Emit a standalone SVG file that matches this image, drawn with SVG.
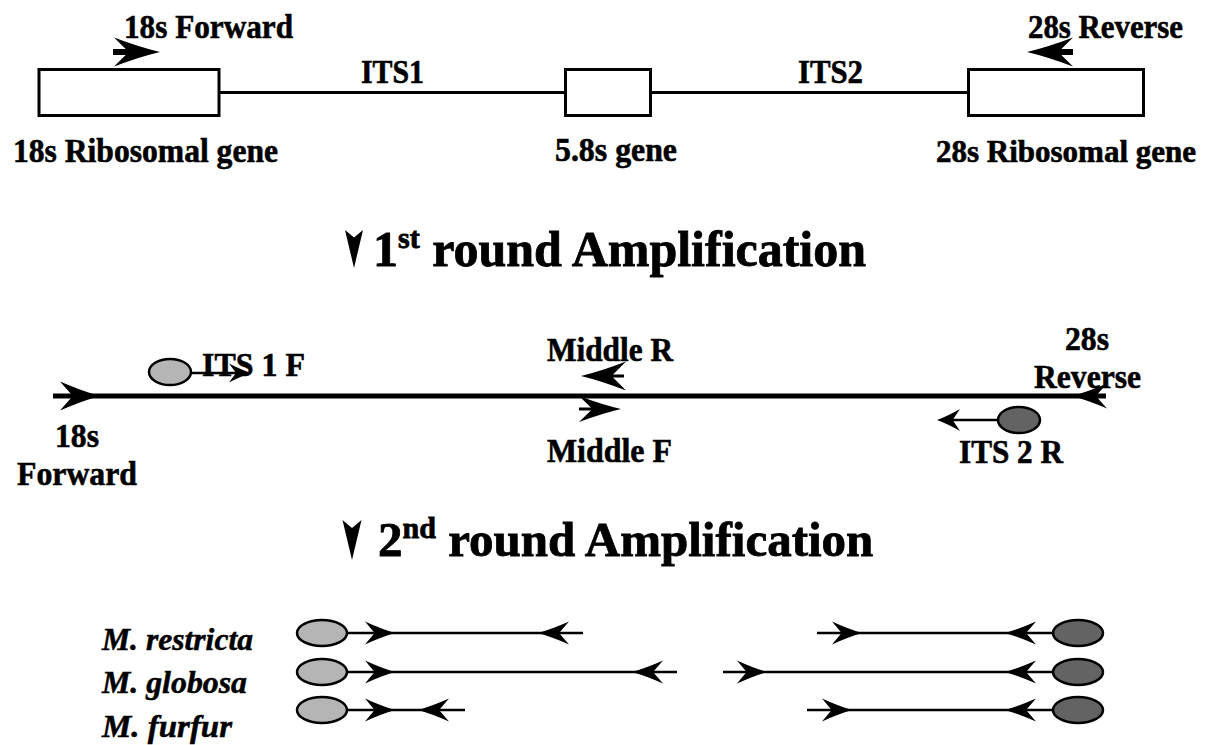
<svg xmlns="http://www.w3.org/2000/svg" xmlns:xlink="http://www.w3.org/1999/xlink" width="1209" height="745" viewBox="0 0 1209 745">
<style>
  .t { font-family: "Liberation Serif", "Times New Roman", serif; font-weight: bold; font-size: 34px; fill: #000; stroke: #000; stroke-width: 0.6; }
  .it { font-family: "Liberation Serif", "Times New Roman", serif; font-weight: bold; font-style: italic; font-size: 32px; fill: #000; stroke: #000; stroke-width: 0.5; }
  .title { font-family: "Liberation Serif", "Times New Roman", serif; font-weight: bold; font-size: 50px; fill: #000; stroke: #000; stroke-width: 0.8; }
  .box { fill: #fff; stroke: #000; stroke-width: 3; }
  .ln { stroke: #000; stroke-width: 3; fill: none; }
  .thick { stroke: #000; stroke-width: 5; fill: none; }
  .thin { stroke: #000; stroke-width: 2.5; fill: none; }
  .light { fill: #b5b5b5; stroke: #000; stroke-width: 2.5; }
  .dark { fill: #636363; stroke: #000; stroke-width: 2.5; }
</style>
<defs>
  <path id="hd" d="M0,0 Q-0.45,-0.17 -1,-0.5 L-0.68,0 L-1,0.5 Q-0.45,0.17 0,0 Z" fill="#000"/>
  <path id="dn" d="M0,0 L-0.5,-1 L0,-0.8 L0.5,-1 Z" fill="#000"/>
</defs>
<rect width="1209" height="745" fill="#fff"/>

<!-- connectors -->
<g id="connectors">
  <!-- top gene line -->
  <line class="ln" x1="220" y1="92.5" x2="565" y2="92.5"/>
  <line class="ln" x1="651" y1="92.5" x2="968" y2="92.5"/>
  <!-- top primer arrows -->
  <line x1="113" y1="52" x2="132" y2="52" stroke="#000" stroke-width="6"/>
  <use xlink:href="#hd" transform="translate(160,52) scale(46,29)"/>
  <line x1="1055" y1="52" x2="1073" y2="52" stroke="#000" stroke-width="6"/>
  <use xlink:href="#hd" transform="translate(1027,52) scale(-46,29)"/>

  <!-- 1st round line -->
  <line class="thick" x1="53" y1="396" x2="1106" y2="396"/>
  <use xlink:href="#hd" transform="translate(100,396) scale(40,29)"/>
  <use xlink:href="#hd" transform="translate(1072,396) scale(-35,25)"/>
  <line x1="605" y1="376" x2="624" y2="376" stroke="#000" stroke-width="3"/>
  <use xlink:href="#hd" transform="translate(581,376) scale(-45,29)"/>
  <line x1="579" y1="409" x2="596" y2="409" stroke="#000" stroke-width="3"/>
  <use xlink:href="#hd" transform="translate(621,409) scale(42,26)"/>
  <line class="thin" x1="192" y1="373" x2="245" y2="373"/>
  <use xlink:href="#hd" transform="translate(251,373) scale(22,19)"/>
  <line class="thin" x1="943" y1="420" x2="998" y2="420"/>
  <use xlink:href="#hd" transform="translate(937,420) scale(-23,22)"/>

  <!-- title arrows -->
  <use xlink:href="#dn" transform="translate(354,268) scale(18,38)"/>
  <use xlink:href="#dn" transform="translate(352,560) scale(19,40)"/>

  <!-- 2nd round products -->
  <line class="thin" x1="347" y1="633" x2="583" y2="633"/>
  <use xlink:href="#hd" transform="translate(395,633) scale(30,23)"/>
  <use xlink:href="#hd" transform="translate(538,633) scale(-31,23)"/>
  <line class="thin" x1="347" y1="672" x2="677" y2="672"/>
  <use xlink:href="#hd" transform="translate(395,672) scale(30,23)"/>
  <use xlink:href="#hd" transform="translate(632,672) scale(-31,23)"/>
  <line class="thin" x1="347" y1="710" x2="465" y2="710"/>
  <use xlink:href="#hd" transform="translate(395,710) scale(30,23)"/>
  <use xlink:href="#hd" transform="translate(418,710) scale(-31,23)"/>

  <line class="thin" x1="817" y1="633" x2="1053" y2="633"/>
  <use xlink:href="#hd" transform="translate(862,633) scale(30,23)"/>
  <use xlink:href="#hd" transform="translate(1005,633) scale(-31,23)"/>
  <line class="thin" x1="723" y1="672" x2="1053" y2="672"/>
  <use xlink:href="#hd" transform="translate(767,672) scale(30,23)"/>
  <use xlink:href="#hd" transform="translate(1005,672) scale(-31,23)"/>
  <line class="thin" x1="807" y1="710" x2="1053" y2="710"/>
  <use xlink:href="#hd" transform="translate(852,710) scale(30,23)"/>
  <use xlink:href="#hd" transform="translate(1005,710) scale(-31,23)"/>
</g>

<!-- top gene map -->
<g id="gene18s">
  <rect class="box" x="39" y="69.5" width="180" height="46"/>
  <text class="t" x="13" y="162" textLength="265" lengthAdjust="spacingAndGlyphs">18s Ribosomal gene</text>
</g>
<g id="primer18sF">
  <text class="t" x="124" y="38" textLength="169" lengthAdjust="spacingAndGlyphs">18s Forward</text>
</g>
<g id="its1">
  <text class="t" x="361" y="83" textLength="63" lengthAdjust="spacingAndGlyphs">ITS1</text>
</g>
<g id="gene58s">
  <rect class="box" x="565.5" y="69.5" width="85" height="46"/>
  <text class="t" x="555" y="161" textLength="122" lengthAdjust="spacingAndGlyphs">5.8s gene</text>
</g>
<g id="its2">
  <text class="t" x="798" y="83" textLength="65" lengthAdjust="spacingAndGlyphs">ITS2</text>
</g>
<g id="gene28s">
  <rect class="box" x="968.5" y="69.5" width="175" height="46"/>
  <text class="t" x="936" y="162" font-size="31" style="font-size:31px" textLength="260" lengthAdjust="spacingAndGlyphs">28s Ribosomal gene</text>
</g>
<g id="primer28sR">
  <text class="t" x="1028" y="38" textLength="155" lengthAdjust="spacingAndGlyphs">28s Reverse</text>
</g>

<!-- titles -->
<g id="title1">
  <text class="title" x="373" y="266">1<tspan font-size="30" dy="-18">st</tspan><tspan dy="18"> round Amplification</tspan></text>
</g>
<g id="title2">
  <text class="title" x="378" y="556" style="font-size:49px">2<tspan font-size="30" dy="-18">nd</tspan><tspan dy="18"> round Amplification</tspan></text>
</g>

<!-- 1st round primers -->
<g id="its1F">
  <ellipse class="light" cx="170" cy="372" rx="21" ry="13"/>
  <text class="t" x="202" y="376" textLength="103" lengthAdjust="spacingAndGlyphs">ITS 1 F</text>
</g>
<g id="middleR">
  <text class="t" x="547" y="361" textLength="126" lengthAdjust="spacingAndGlyphs">Middle R</text>
</g>
<g id="middleF">
  <text class="t" x="547" y="462" textLength="125" lengthAdjust="spacingAndGlyphs">Middle F</text>
</g>
<g id="fwd18s">
  <text class="t" x="55" y="447" textLength="44" lengthAdjust="spacingAndGlyphs">18s</text>
  <text class="t" x="17" y="485" textLength="120" lengthAdjust="spacingAndGlyphs">Forward</text>
</g>
<g id="rev28s">
  <text class="t" x="1065" y="350" textLength="44" lengthAdjust="spacingAndGlyphs">28s</text>
  <text class="t" x="1034" y="388" textLength="107" lengthAdjust="spacingAndGlyphs">Reverse</text>
</g>
<g id="its2R">
  <ellipse class="dark" cx="1019" cy="420" rx="21" ry="13"/>
  <text class="t" x="959" y="463" textLength="104" lengthAdjust="spacingAndGlyphs">ITS 2 R</text>
</g>

<!-- 2nd round species -->
<g id="restricta">
  <text class="it" x="102" y="650" textLength="151" lengthAdjust="spacingAndGlyphs">M. restricta</text>
  <ellipse class="light" cx="322" cy="633" rx="25" ry="13"/>
  <ellipse class="dark" cx="1078" cy="633" rx="25" ry="13"/>
</g>
<g id="globosa">
  <text class="it" x="102" y="693" textLength="145" lengthAdjust="spacingAndGlyphs">M. globosa</text>
  <ellipse class="light" cx="322" cy="672" rx="25" ry="13"/>
  <ellipse class="dark" cx="1078" cy="672" rx="25" ry="13"/>
</g>
<g id="furfur">
  <text class="it" x="102" y="737" textLength="130" lengthAdjust="spacingAndGlyphs">M. furfur</text>
  <ellipse class="light" cx="322" cy="710" rx="25" ry="13"/>
  <ellipse class="dark" cx="1078" cy="710" rx="25" ry="13"/>
</g>
</svg>
